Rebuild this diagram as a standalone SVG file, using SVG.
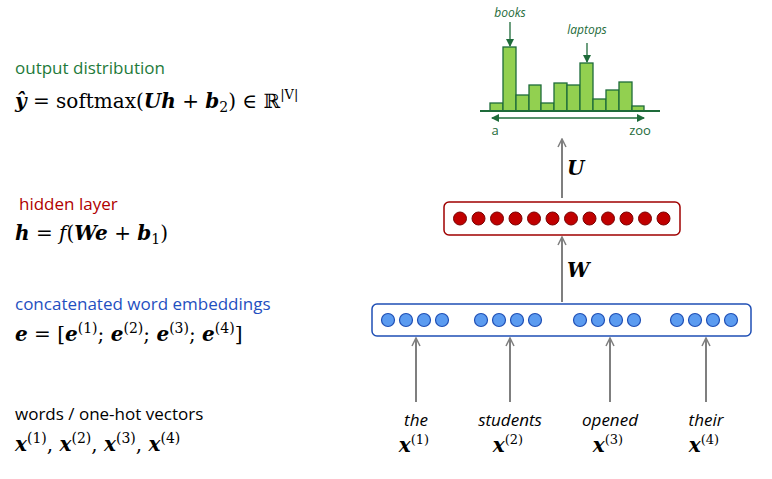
<svg xmlns="http://www.w3.org/2000/svg" width="772" height="479" viewBox="0 0 772 479">
<defs>
<style>
.lbl{font-family:"Open Sans","Liberation Sans",sans-serif;font-size:17px}
.m{font-family:"DejaVu Serif","Liberation Serif",serif;font-size:20px}
.bar{fill:#92d050;stroke:#1e6b3a;stroke-width:1.3}
.arr{stroke:#7f7f7f;stroke-width:2;fill:none;marker-end:url(#ga)}
.rc{fill:#c00000;stroke:#7a0000;stroke-width:1}
.bc{fill:#5b9bf0;stroke:#1f4fb5;stroke-width:1.2}
.w{font-family:"Open Sans","Liberation Sans",sans-serif;font-size:17px;font-style:italic;text-anchor:middle}
.g{fill:#1e6b3a;font-family:"Open Sans","Liberation Sans",sans-serif;font-style:italic;font-size:12px;text-anchor:middle}
.gu{fill:#1e6b3a;font-family:"Open Sans","Liberation Sans",sans-serif;font-size:13px;text-anchor:middle}
</style>
<marker id="ga" markerWidth="10" markerHeight="10" refX="9" refY="5" orient="auto" markerUnits="userSpaceOnUse"><path d="M1,1 L9,5 L1,9" fill="none" stroke="#7f7f7f" stroke-width="1.5"/></marker>
<marker id="gr" markerWidth="8" markerHeight="8" refX="7" refY="4" orient="auto" markerUnits="userSpaceOnUse"><path d="M0,0 L8,4 L0,8z" fill="#1e6b3a"/></marker>
<marker id="grs" markerWidth="8" markerHeight="8" refX="1" refY="4" orient="auto" markerUnits="userSpaceOnUse"><path d="M8,0 L0,4 L8,8z" fill="#1e6b3a"/></marker>
</defs>
<g id="left">
<text x="15" y="74" class="lbl" fill="#1e7a3a">output distribution</text>
<text x="15" y="108" class="m"><tspan font-weight="bold" font-style="italic">ŷ</tspan> = softmax(<tspan font-weight="bold" font-style="italic">Uh</tspan> + <tspan font-weight="bold" font-style="italic">b</tspan><tspan font-size="14" dy="4">2</tspan><tspan dy="-4">) ∈ ℝ</tspan><tspan font-size="13" dy="-9">|V|</tspan></text>
<text x="19" y="210" class="lbl" fill="#b00000">hidden layer</text>
<text x="15" y="240" class="m"><tspan font-weight="bold" font-style="italic">h</tspan> = <tspan font-style="italic">f</tspan>(<tspan font-weight="bold" font-style="italic">We</tspan> + <tspan font-weight="bold" font-style="italic">b</tspan><tspan font-size="14" dy="4">1</tspan><tspan dy="-4">)</tspan></text>
<text x="15" y="310" class="lbl" fill="#1f4fc0">concatenated word embeddings</text>
<text x="15" y="341" class="m"><tspan font-weight="bold" font-style="italic">e</tspan> = [<tspan font-weight="bold" font-style="italic">e</tspan><tspan font-size="14" dy="-8">(1)</tspan><tspan dy="8">; </tspan><tspan font-weight="bold" font-style="italic">e</tspan><tspan font-size="14" dy="-8">(2)</tspan><tspan dy="8">; </tspan><tspan font-weight="bold" font-style="italic">e</tspan><tspan font-size="14" dy="-8">(3)</tspan><tspan dy="8">; </tspan><tspan font-weight="bold" font-style="italic">e</tspan><tspan font-size="14" dy="-8">(4)</tspan><tspan dy="8">]</tspan></text>
<text x="15" y="420" class="lbl" fill="#000">words / one-hot vectors</text>
<text x="15" y="451" class="m"><tspan font-weight="bold" font-style="italic">x</tspan><tspan font-size="14" dy="-8">(1)</tspan><tspan dy="8">, </tspan><tspan font-weight="bold" font-style="italic">x</tspan><tspan font-size="14" dy="-8">(2)</tspan><tspan dy="8">, </tspan><tspan font-weight="bold" font-style="italic">x</tspan><tspan font-size="14" dy="-8">(3)</tspan><tspan dy="8">, </tspan><tspan font-weight="bold" font-style="italic">x</tspan><tspan font-size="14" dy="-8">(4)</tspan></text>
</g>
<g id="histogram">
<rect class="bar" x="490" y="103" width="13" height="8"/>
<rect class="bar" x="503" y="47" width="13" height="64"/>
<rect class="bar" x="516" y="95" width="13" height="16"/>
<rect class="bar" x="529" y="85" width="12" height="26"/>
<rect class="bar" x="541" y="103" width="13" height="8"/>
<rect class="bar" x="554" y="83" width="13" height="28"/>
<rect class="bar" x="567" y="85" width="13" height="26"/>
<rect class="bar" x="580" y="63" width="13" height="48"/>
<rect class="bar" x="593" y="99" width="13" height="12"/>
<rect class="bar" x="606" y="90" width="13" height="21"/>
<rect class="bar" x="619" y="82" width="13" height="29"/>
<rect class="bar" x="632" y="106" width="12" height="5"/>
<line x1="480" y1="111" x2="660" y2="111" stroke="#1e6b3a" stroke-width="2"/>
<line x1="492" y1="118" x2="644" y2="118" stroke="#1e6b3a" stroke-width="1.5" marker-start="url(#grs)" marker-end="url(#gr)"/>
<text x="495" y="135" class="gu">a</text>
<text x="640" y="135" class="gu">zoo</text>
<text x="510" y="17" class="g">books</text>
<line x1="510" y1="22" x2="510" y2="46" stroke="#1e6b3a" stroke-width="1.3" marker-end="url(#gr)"/>
<text x="587" y="34" class="g">laptops</text>
<line x1="587" y1="43" x2="587" y2="62" stroke="#1e6b3a" stroke-width="1.3" marker-end="url(#gr)"/>
</g>
<g id="hidden">
<rect x="444" y="202" width="236" height="33" rx="5" fill="#fff" stroke="#a00000" stroke-width="1.5"/>
<circle class="rc" cx="460" cy="218.5" r="6.5"/><circle class="rc" cx="478.5" cy="218.5" r="6.5"/><circle class="rc" cx="497" cy="218.5" r="6.5"/><circle class="rc" cx="515.5" cy="218.5" r="6.5"/><circle class="rc" cx="534" cy="218.5" r="6.5"/><circle class="rc" cx="552.5" cy="218.5" r="6.5"/><circle class="rc" cx="571" cy="218.5" r="6.5"/><circle class="rc" cx="589.5" cy="218.5" r="6.5"/><circle class="rc" cx="608" cy="218.5" r="6.5"/><circle class="rc" cx="626.5" cy="218.5" r="6.5"/><circle class="rc" cx="645" cy="218.5" r="6.5"/><circle class="rc" cx="663.5" cy="218.5" r="6.5"/>
</g>
<g id="embed">
<rect x="372" y="304" width="379" height="32" rx="5" fill="#fff" stroke="#1f4fb5" stroke-width="1.5"/>
<circle class="bc" cx="388" cy="320" r="6.5"/><circle class="bc" cx="406" cy="320" r="6.5"/><circle class="bc" cx="424" cy="320" r="6.5"/><circle class="bc" cx="442" cy="320" r="6.5"/>
<circle class="bc" cx="481" cy="320" r="6.5"/><circle class="bc" cx="499" cy="320" r="6.5"/><circle class="bc" cx="517" cy="320" r="6.5"/><circle class="bc" cx="535" cy="320" r="6.5"/>
<circle class="bc" cx="580" cy="320" r="6.5"/><circle class="bc" cx="598" cy="320" r="6.5"/><circle class="bc" cx="616" cy="320" r="6.5"/><circle class="bc" cx="634" cy="320" r="6.5"/>
<circle class="bc" cx="677" cy="320" r="6.5"/><circle class="bc" cx="695" cy="320" r="6.5"/><circle class="bc" cx="713" cy="320" r="6.5"/><circle class="bc" cx="731" cy="320" r="6.5"/>
</g>
<g id="words">
<text x="416" y="426" class="w">the</text>
<text x="510" y="426" class="w">students</text>
<text x="610" y="426" class="w">opened</text>
<text x="706" y="426" class="w">their</text>
<text x="414" y="452" class="m" text-anchor="middle"><tspan font-weight="bold" font-style="italic">x</tspan><tspan font-size="13" dy="-8">(1)</tspan></text>
<text x="508" y="452" class="m" text-anchor="middle"><tspan font-weight="bold" font-style="italic">x</tspan><tspan font-size="13" dy="-8">(2)</tspan></text>
<text x="608" y="452" class="m" text-anchor="middle"><tspan font-weight="bold" font-style="italic">x</tspan><tspan font-size="13" dy="-8">(3)</tspan></text>
<text x="704" y="452" class="m" text-anchor="middle"><tspan font-weight="bold" font-style="italic">x</tspan><tspan font-size="13" dy="-8">(4)</tspan></text>
</g>
<g id="connectors">
<line class="arr" x1="562" y1="198" x2="562" y2="139"/>
<line class="arr" x1="562" y1="302" x2="562" y2="237"/>
<line class="arr" x1="416" y1="402" x2="416" y2="338"/>
<line class="arr" x1="510" y1="402" x2="510" y2="338"/>
<line class="arr" x1="610" y1="402" x2="610" y2="338"/>
<line class="arr" x1="706" y1="402" x2="706" y2="338"/>
<text x="567" y="175" class="m" font-weight="bold" font-style="italic">U</text>
<text x="567" y="277" class="m" font-weight="bold" font-style="italic">W</text>
</g>
</svg>
